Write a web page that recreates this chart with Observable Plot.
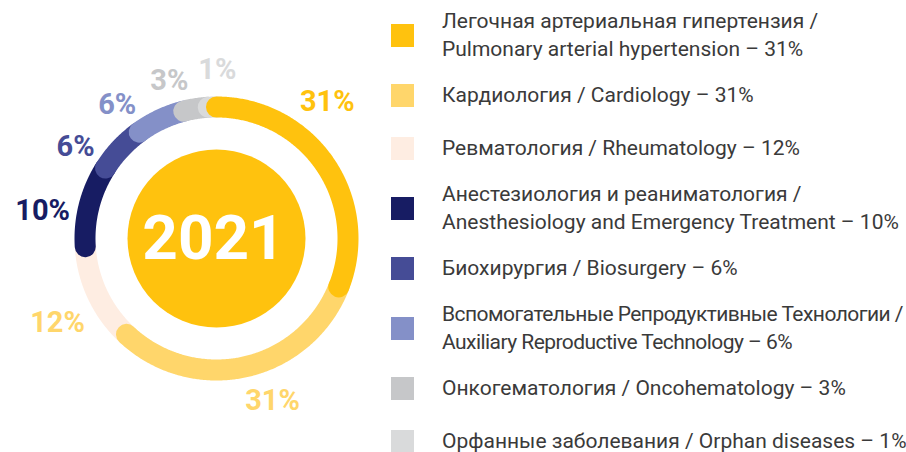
<!DOCTYPE html>
<html>
<head>
<meta charset="utf-8">
<script src="https://cdn.jsdelivr.net/npm/d3@7"></script>
<script src="https://cdn.jsdelivr.net/npm/@observablehq/plot@0.6"></script>
<style>
  html, body { margin: 0; padding: 0; background: #fff; }
  #wrap { position: relative; width: 906px; height: 452px; overflow: hidden; font-family: Roboto, "Noto Sans", sans-serif; }
  #chart { position: absolute; left: 0; top: 0; }
  #legend { position: absolute; left: 391px; top: 7px; display: flex; flex-direction: column; gap: 18px; }
  .item { display: flex; align-items: center; }
  .item.single + .item.single { margin-top: 7px; }
  .sw { width: 23px; height: 23px; flex: none; margin-right: 28px; }
  .txt { font-size: 21px; line-height: 28px; color: #3a3a3a; white-space: nowrap; }
  .tight .txt { letter-spacing: -0.55px; }
</style>
</head>
<body>
<div id="wrap">
  <div id="chart"></div>
  <div id="legend"></div>
</div>
<script>
// ---- data ----
const year = "2021";
const namesRu = [
  "Легочная артериальная гипертензия",
  "Кардиология",
  "Ревматология",
  "Анестезиология и реаниматология",
  "Биохирургия",
  "Вспомогательные Репродуктивные Технологии",
  "Онкогематология",
  "Орфанные заболевания"
];
const namesEn = [
  "Pulmonary arterial hypertension",
  "Cardiology",
  "Rheumatology",
  "Anesthesiology and Emergency Treatment",
  "Biosurgery",
  "Auxiliary Reproductive Technology",
  "Oncohematology",
  "Orphan diseases"
];
const shares = [31, 31, 12, 10, 6, 6, 3, 1];

// ---- styles / layout ----
const colors = ["#FFC20E", "#FFD66B", "#FEEDE2", "#171C63", "#454C96", "#8490C8", "#C6C7C9", "#D9DADB"];
const labelColors = ["#FFC20E", "#FFD66B", "#FFD66B", "#171C63", "#454C96", "#8490C8", "#C6C7C9", "#D9DADB"];
const twoLine = [true, false, false, true, false, true, false, false];
const tightText = [false, false, false, false, false, true, false, false];
const drawOrder = [2, 3, 4, 5, 6, 7, 1, 0];           // bottom -> top
const labelAngle = [39, 161, 242, 279, 303, 323.5, 343.4, 0.3]; // degrees clockwise from top
const labelRadius = [176, 172, 180, 176, 168, 167, 165, 169];   // px

const W = 380, H = 452, cx = 216, cy = 238, R = 131.5;

// cumulative angles
const total = d3.sum(shares);
const ends = d3.cumsum(shares).map(v => v / total * 360);
const starts = ends.map((e, i) => e - shares[i] / total * 360);

function arcPoints(i) {
  const pts = [];
  const a0 = starts[i], a1 = ends[i];
  const n = Math.max(2, Math.ceil((a1 - a0) / 0.5));
  for (let k = 0; k <= n; k++) {
    const a = (a0 + (a1 - a0) * k / n) * Math.PI / 180;
    pts.push({x: Math.sin(a), y: Math.cos(a)});
  }
  return pts;
}

const labels = shares.map((v, i) => {
  const a = labelAngle[i] * Math.PI / 180;
  const r = labelRadius[i] / R;
  return {x: Math.sin(a) * r, y: Math.cos(a) * r, text: v + "%", color: labelColors[i]};
});

const chart = Plot.plot({
  width: W,
  height: H,
  margin: 0,
  x: {domain: [-cx / R, (W - cx) / R], range: [0, W], axis: null},
  y: {domain: [cy / R, -(H - cy) / R], range: [0, H], axis: null},
  color: {type: "identity"},
  style: {background: "transparent", fontFamily: "Roboto, sans-serif"},
  marks: [
    ...drawOrder.map(i => Plot.line(arcPoints(i), {
      x: "x", y: "y", stroke: colors[i], strokeWidth: 21, strokeLinecap: "round", strokeLinejoin: "round"
    })),
    Plot.dot([{x: 0, y: 0}], {x: "x", y: "y", r: 89, fill: colors[0], stroke: "none"}),
    Plot.text([{x: 0, y: 0, t: year}], {x: "x", y: "y", text: "t", fill: "#fff", fontSize: 62, fontWeight: 700, dx: -3, dy: 1}),
    Plot.text(labels, {x: "x", y: "y", text: "text", fill: "color", fontSize: 29, fontWeight: 700})
  ]
});
document.getElementById("chart").appendChild(chart);

// legend
const legend = d3.select("#legend");
shares.forEach((v, i) => {
  const item = legend.append("div")
    .attr("class", "item" + (twoLine[i] ? " double" : " single") + (tightText[i] ? " tight" : ""));
  item.append("div").attr("class", "sw").style("background", colors[i]);
  const t = item.append("div").attr("class", "txt");
  const en = namesEn[i] + " – " + v + "%";
  if (twoLine[i]) {
    t.append("div").text(namesRu[i] + " /");
    t.append("div").text(en);
  } else {
    t.text(namesRu[i] + " / " + en);
  }
});
</script>
</body>
</html>
